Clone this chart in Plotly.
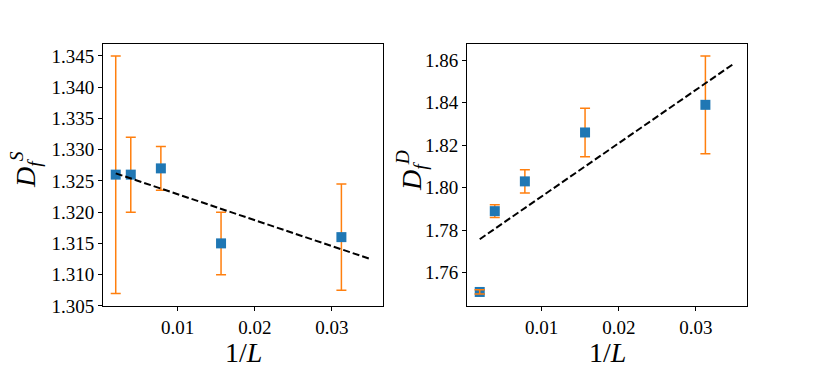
import plotly.graph_objects as go

# 1/L for L = 512, 256, 128, 64, 32
inv_L = [1 / 512, 1 / 256, 1 / 128, 1 / 64, 1 / 32]

# left panel: D_f^S
df_s = [1.326, 1.326, 1.327, 1.315, 1.316]
df_s_err = [0.019, 0.006, 0.0035, 0.005, 0.0085]
fit_s_x = [1 / 512, 0.035]
fit_s_y = [1.3262, 1.3125]

# right panel: D_f^D
df_d = [1.751, 1.789, 1.803, 1.826, 1.839]
df_d_err = [0.001, 0.003, 0.0055, 0.0114, 0.023]
fit_d_x = [1 / 512, 0.035]
fit_d_y = [1.7758, 1.8585]

blue = '#1f77b4'
orange = '#ff7f0e'
font_family = '"Liberation Serif", "DejaVu Serif", serif'

fig = go.Figure()

for xa, ya, vals, errs, fx, fy in [
    ('x', 'y', df_s, df_s_err, fit_s_x, fit_s_y),
    ('x2', 'y2', df_d, df_d_err, fit_d_x, fit_d_y),
]:
    fig.add_trace(go.Scatter(
        x=inv_L, y=vals, mode='markers',
        marker=dict(symbol='square', size=10, color=blue),
        error_y=dict(type='data', array=errs, visible=True,
                     color=orange, thickness=1.5, width=5),
        xaxis=xa, yaxis=ya, showlegend=False
    ))
    fig.add_trace(go.Scatter(
        x=fx, y=fy, mode='lines',
        line=dict(color='black', width=2, dash='7px,3px'),
        xaxis=xa, yaxis=ya, showlegend=False
    ))

# the caps of the tiny L=512 error bar sit on top of its marker
fig.add_trace(go.Scatter(
    x=inv_L[:1], y=df_d[:1], mode='markers',
    marker=dict(symbol='square', size=10, color='rgba(0,0,0,0)'),
    error_y=dict(type='data', array=df_d_err[:1], visible=True,
                 color=orange, thickness=1.5, width=5),
    xaxis='x2', yaxis='y2', showlegend=False
))

axis_style = dict(
    showline=True, mirror=True, linecolor='black', linewidth=1,
    ticks='outside', ticklen=4, tickcolor='black', tickwidth=1,
    showgrid=False, zeroline=False, automargin=False,
    tickfont=dict(family=font_family, size=19, color='black')
)

fig.update_layout(
    width=830, height=369,
    margin=dict(l=0, r=0, t=0, b=0),
    plot_bgcolor='white', paper_bgcolor='white',
    xaxis=dict(domain=[103 / 830, 383 / 830], range=[0.0003, 0.03665],
               tickvals=[0.01, 0.02, 0.03], ticktext=['0.01', '0.02', '0.03'],
               anchor='y', **axis_style),
    yaxis=dict(domain=[1 - 306 / 369, 1 - 44 / 369], range=[1.30498, 1.3469],
               tickvals=[1.305, 1.31, 1.315, 1.32, 1.325, 1.33, 1.335, 1.34, 1.345],
               tickformat='.3f', anchor='x', **axis_style),
    xaxis2=dict(domain=[467 / 830, 747 / 830], range=[0.0003, 0.03665],
                tickvals=[0.01, 0.02, 0.03], ticktext=['0.01', '0.02', '0.03'],
                anchor='y2', **axis_style),
    yaxis2=dict(domain=[1 - 306 / 369, 1 - 44 / 369], range=[1.7444, 1.8676],
                tickvals=[1.76, 1.78, 1.80, 1.82, 1.84, 1.86],
                tickformat='.2f', anchor='x2', **axis_style),
)

title_font = dict(family=font_family, size=28, color='black')
titles = [
    (25, 170, '<i>D</i><sub><i>f</i></sub><sup><i>S</i></sup>', -90),
    (411, 171, '<i>D</i><sub><i>f</i></sub><sup><i>D</i></sup>', -90),
    (243, 352, '1/<i>L</i>', 0),
    (607, 352, '1/<i>L</i>', 0),
]
for px_x, px_y, txt, ang in titles:
    fig.add_annotation(x=px_x / 830, y=1 - px_y / 369, xref='paper', yref='paper',
                       xanchor='center', yanchor='middle', text=txt,
                       textangle=ang, showarrow=False, font=title_font)

# drop the default body margin so the figure sits at the page corner
fig.write_html("out.html", config={'displayModeBar': False},
               post_script="document.body.style.margin='0';")
